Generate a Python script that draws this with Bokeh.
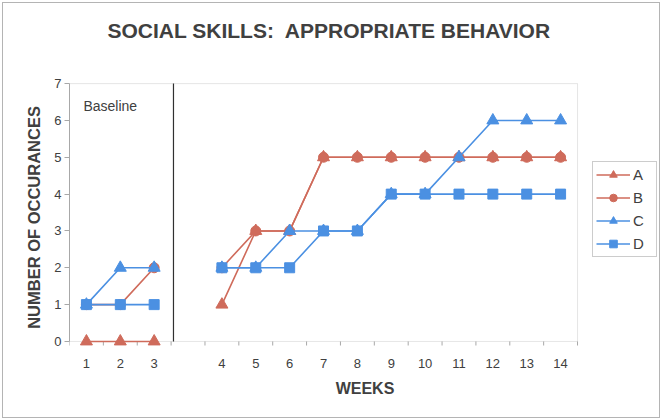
import numpy as np
from bokeh.plotting import figure
from bokeh.models import (Range1d, FixedTicker, Label, Legend, LegendItem, BoxAnnotation)
from bokeh.embed import file_html
from bokeh.resources import INLINE

# ---- data ----
slots = ["1", "2", "3", "", "4", "5", "6", "7", "8", "9", "10", "11", "12", "13", "14"]
nan = float("nan")
series_a = [0, 0, 0, nan, 1, 3, 3, 5, 5, 5, 5, 5, 5, 5, 5]
series_b = [1, 1, 2, nan, 2, 3, 3, 5, 5, 5, 5, 5, 5, 5, 5]
series_c = [1, 2, 2, nan, 2, 2, 3, 3, 3, 4, 4, 5, 6, 6, 6]
series_d = [1, 1, 1, nan, 2, 2, 2, 3, 3, 4, 4, 4, 4, 4, 4]
y_ticks = [0, 1, 2, 3, 4, 5, 6, 7]
phase_change = 3.57   # baseline / intervention divider
phase_label = "Baseline"

RED = "#cf6b5b"
BLUE = "#4b90e2"
TXT = "#404040"
GRID = "#a8a8a8"
FONT = "Liberation Sans"

pos = np.arange(1, len(slots) + 1)
ymin, ymax = y_ticks[0], y_ticks[-1]
xmin, xmax = 0.5, len(slots) + 0.5
pad_bottom = 0.3
eps = 0.03
legend_room = 2.45   # extra x-range (in slot units) to host the legend inside the frame

p = figure(frame_width=591, frame_height=270, output_backend="svg", toolbar_location=None,
           x_range=Range1d(xmin, xmax + legend_room), y_range=Range1d(ymin - pad_bottom, ymax + eps),
           min_border_left=69, min_border_right=2, min_border_top=82, min_border_bottom=68)

p.title.text = "SOCIAL SKILLS:\u00a0 APPROPRIATE BEHAVIOR"
p.title.align = "left"
p.title.offset = 38
p.title.text_font = FONT
p.title.text_font_size = "21px"
p.title.text_font_style = "bold"
p.title.text_color = TXT
p.title.standoff = 20
p.title.padding = dict(left=0, right=0, top=0, bottom=31)

p.xgrid.visible = False
p.ygrid.visible = False
p.outline_line_color = None
p.background_fill_alpha = 0
p.border_fill_alpha = 0
p.styles = {"box-shadow": "inset 0 0 0 2px #ffffff, inset 0 0 0 3px #b4b4b4",
            "background-color": "#ffffff"}

# plot-area frame (0..7)
p.add_layout(BoxAnnotation(left=xmin, right=xmax, bottom=ymin, top=ymax,
                           fill_alpha=0, line_color=GRID, line_width=1, level="underlay"))
# category boundary ticks below the zero line
bounds_x = list(np.arange(xmin, xmax + 0.5, 1.0))
p.segment(x0=bounds_x, y0=[ymin] * len(bounds_x), x1=bounds_x, y1=[ymin - 0.11] * len(bounds_x),
          line_color=GRID, line_width=1)

# x axis (labels only)
xa = p.xaxis[0]
xa.ticker = FixedTicker(ticks=[float(v) for v, s in zip(pos, slots) if s != ""])
xa.major_label_overrides = {float(v): s for v, s in zip(pos, slots) if s != ""}
xa.major_tick_line_color = None
xa.minor_tick_line_color = None
xa.axis_line_color = None
xa.major_label_text_font = FONT
xa.major_label_text_font_size = "13px"
xa.major_label_text_color = TXT
xa.major_label_standoff = 0
xa.axis_label = "WEEKS"
xa.axis_label_text_font = FONT
xa.axis_label_text_font_size = "16px"
xa.axis_label_text_font_style = "bold"
xa.axis_label_text_color = TXT
xa.axis_label_standoff = 9

# y axis
ya = p.yaxis[0]
ya.bounds = (ymin, ymax)
ya.ticker = FixedTicker(ticks=y_ticks)
ya.minor_tick_line_color = None
ya.major_tick_out = 5
ya.major_tick_in = 0
ya.major_tick_line_color = GRID
ya.axis_line_color = GRID
ya.major_label_text_font = FONT
ya.major_label_text_font_size = "13px"
ya.major_label_text_color = TXT
ya.major_label_standoff = 3
ya.axis_label = "NUMBER OF OCCURANCES"
ya.axis_label_text_font = FONT
ya.axis_label_text_font_size = "16.5px"
ya.axis_label_text_font_style = "bold"
ya.axis_label_text_color = TXT
ya.axis_label_standoff = 8

# divider and phase label
p.segment(x0=[phase_change], y0=[ymin], x1=[phase_change], y1=[ymax],
          line_color="#303030", line_width=1.2)
p.add_layout(Label(x=0.91, y=6.38, text=phase_label, text_font=FONT, text_font_size="14px",
                   text_color=TXT, text_baseline="middle", text_align="left"))

items = []
for name, vals, color, marker, size in [("A", series_a, RED, "triangle", 12),
                                         ("B", series_b, RED, "circle", 10),
                                         ("C", series_c, BLUE, "triangle", 12),
                                         ("D", series_d, BLUE, "square", 10)]:
    ln = p.line(pos, vals, line_color=color, line_width=1.6)
    sc = p.scatter(pos, vals, marker=marker, size=size, fill_color=color, line_color=color)
    items.append(LegendItem(label=name, renderers=[ln, sc]))

legend = Legend(items=items, location=(523, 95), orientation="vertical",
                glyph_width=34, glyph_height=19, spacing=4, padding=3, margin=0,
                label_standoff=3, label_text_font=FONT, label_text_font_size="15px",
                label_text_color=TXT, border_line_color="#9a9a9a", border_line_width=1,
                background_fill_color="white", background_fill_alpha=1.0)
p.add_layout(legend, "center")

open("out.html", "w").write(file_html(p, INLINE))
